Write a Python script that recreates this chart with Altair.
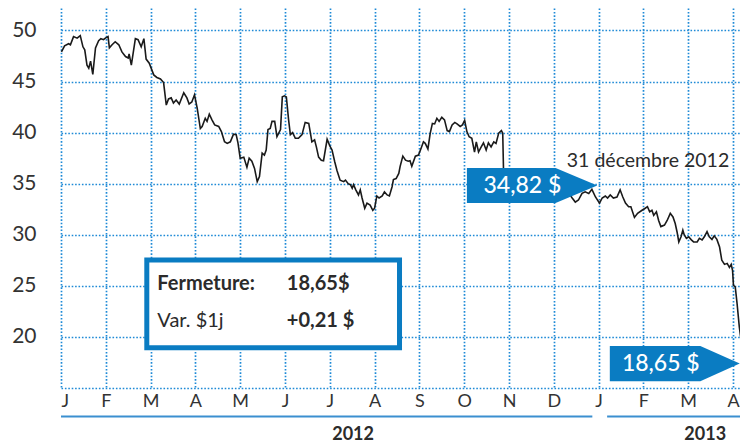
import json
import altair as alt
import pandas as pd

# ---- data (x in months since Jan 2012, equal month spacing) ----
POS = [0.01, 0.08, 0.17, 0.21, 0.28, 0.36, 0.43, 0.49, 0.53, 0.58, 0.62, 0.66, 0.71, 0.77, 0.84, 0.89, 0.95, 0.99,
       1.05, 1.08, 1.14, 1.21, 1.29, 1.36, 1.44, 1.50, 1.52, 1.57, 1.66, 1.72, 1.79, 1.85, 1.90, 1.97,
       2.07, 2.14, 2.22, 2.29, 2.35, 2.40, 2.46, 2.51, 2.57, 2.64, 2.74, 2.81, 2.86, 2.92, 2.98,
       3.04, 3.11, 3.15, 3.22, 3.26, 3.31, 3.37, 3.43, 3.52, 3.58, 3.65, 3.71, 3.78, 3.85, 3.91, 3.95,
       4.00, 4.08, 4.15, 4.20, 4.26, 4.32, 4.38, 4.43, 4.49, 4.54, 4.58, 4.62, 4.67, 4.71, 4.77, 4.82, 4.90, 4.94, 4.99,
       5.03, 5.08, 5.12, 5.17, 5.23, 5.30, 5.38, 5.45, 5.53, 5.60, 5.66, 5.70, 5.75, 5.81, 5.86, 5.94,
       6.00, 6.05, 6.11, 6.16, 6.23, 6.31, 6.35, 6.41, 6.46, 6.50, 6.53, 6.58, 6.64, 6.68, 6.72, 6.78, 6.83, 6.90, 6.96,
       7.00, 7.05, 7.10, 7.17, 7.22, 7.28, 7.33, 7.39, 7.42, 7.48, 7.54, 7.57, 7.63, 7.69, 7.75, 7.79, 7.83, 7.91, 7.98,
       8.04, 8.09, 8.13, 8.19, 8.24, 8.29, 8.34, 8.39, 8.44, 8.50, 8.56, 8.62, 8.67, 8.73, 8.79, 8.84, 8.91, 8.96,
       9.01, 9.06, 9.11, 9.17, 9.23, 9.27, 9.32, 9.38, 9.43, 9.49, 9.54, 9.60, 9.66, 9.71, 9.77, 9.83, 9.86, 9.88, 9.95,
       10.15, 10.40, 10.65, 10.90, 11.15, 11.30, 11.41, 11.48, 11.55, 11.63, 11.70, 11.78, 11.85, 11.93,
       12.02, 12.08, 12.15, 12.20, 12.26, 12.33, 12.41, 12.48, 12.54, 12.60, 12.67, 12.72, 12.80, 12.87, 12.97,
       13.04, 13.09, 13.14, 13.19, 13.23, 13.29, 13.34, 13.39, 13.47, 13.53, 13.60, 13.66, 13.71, 13.75, 13.79, 13.84, 13.88, 13.91, 13.96,
       14.01, 14.07, 14.12, 14.20, 14.25, 14.31, 14.36, 14.42, 14.47, 14.53, 14.58, 14.64, 14.70, 14.75, 14.81, 14.87, 14.92, 14.96, 14.99,
       15.01, 15.05, 15.09, 15.14, 15.19, 15.25, 15.30, 15.34]
PRICE = [47.9, 48.5, 48.7, 48.6, 49.4, 49.25, 49.5, 48.4, 48.1, 46.6, 46.3, 47.0, 45.7, 48.3, 49.0, 49.2, 49.1, 49.25,
         49.4, 48.3, 48.6, 48.9, 48.6, 47.9, 47.45, 47.3, 47.7, 46.6, 49.2, 49.1, 48.4, 49.2, 47.2, 46.8,
         45.65, 45.4, 45.25, 44.9, 42.7, 43.3, 43.4, 42.9, 43.2, 42.8, 43.9, 43.4, 42.8, 43.0, 43.7,
         42.4, 40.4, 40.6, 41.4, 41.1, 41.8, 41.25, 40.75, 40.6, 40.1, 39.1, 38.95, 39.1, 39.85, 39.8, 39.0,
         37.5, 37.6, 36.6, 37.5, 37.2, 36.5, 35.2, 35.7, 38.0, 37.8, 38.3, 40.3, 40.4, 41.1, 41.1, 39.6, 40.3, 43.5, 43.6,
         43.5, 41.25, 39.8, 40.0, 39.45, 39.45, 39.8, 41.0, 40.9, 39.1, 39.3, 38.6, 37.6, 37.3, 37.25, 39.35,
         38.7, 38.3, 37.15, 36.3, 35.35, 35.2, 35.35, 35.0, 34.9, 34.55, 34.9, 34.4, 33.9, 34.4, 33.6, 32.6, 33.1, 32.9, 32.4,
         32.6, 33.8, 33.6, 33.8, 34.2, 33.9, 33.8, 34.7, 35.4, 35.5, 36.0, 36.7, 37.7, 37.3, 37.2, 37.25, 36.7, 37.7, 37.8,
         38.5, 39.1, 38.95, 38.4, 39.9, 40.9, 40.85, 41.4, 41.1, 41.5, 41.25, 40.2, 40.1, 40.75, 41.0, 40.85, 40.6, 40.75,
         41.2, 40.1, 39.6, 39.45, 38.1, 39.1, 38.1, 38.6, 39.0, 38.3, 39.0, 38.6, 39.1, 38.95, 39.95, 40.2, 39.95, 35.8, 35.3,
         35.0, 35.4, 34.9, 35.1, 34.6, 34.3, 33.6, 33.2, 33.4, 34.05, 34.2, 34.05, 34.45, 33.7,
         33.1, 33.6, 33.8, 33.6, 33.9, 33.6, 33.7, 34.4, 33.7, 33.1, 32.75, 32.75, 31.7, 32.1, 32.4,
         32.6, 32.75, 32.25, 32.4, 31.9, 32.25, 31.4, 30.8, 30.95, 31.4, 32.1, 31.75, 31.1, 30.3, 29.3, 29.8, 30.45, 30.0, 29.65,
         29.8, 29.5, 29.3, 29.3, 29.65, 29.5, 29.8, 30.3, 29.8, 29.55, 29.9, 29.55, 28.8, 27.5, 27.1, 27.2, 26.8, 27.1, 26.5,
         25.05, 24.9, 23.3, 21.0, 19.35, 18.4, 18.55, 18.65]

MONTH_LETTERS = ["J", "F", "M", "A", "M", "J", "J", "A", "S", "O", "N", "D", "J", "F", "M", "A"]
Y_TICKS = [15, 20, 25, 30, 35, 40, 45, 50]

YEARS = ["2012", "2013"]
YEAR_START = [0.0, 12.19]
YEAR_END = [11.86, 15.34]
YEAR_LABEL_POS = [6.52, 14.38]

# callouts
CALLOUT_TEXT = ["34,82 $", "18,65 $"]
CALLOUT_TIP_X = [11.97, 15.15]
CALLOUT_TIP_Y = [34.82, 17.39]
CALLOUT_LEFT = [9.06, 12.25]
CALLOUT_BODY_RIGHT = [11.04, 14.27]
CALLOUT_HALF = 1.72
CALLOUT_TEXT_X = [9.43, 12.52]

DATE_NOTE = "31 décembre 2012"
BOX_LABELS = ["Fermeture:", "Var. $1j"]
BOX_VALUES = ["18,65$", "+0,21 $"]

BLUE = "#0a7cc2"
GRID = "#1f8ad6"
TXT = "#2b2b2b"
FONT = "Lato"

xs = alt.Scale(domain=[0, 15.156], nice=False, zero=False)
ys = alt.Scale(domain=[15, 52.2], nice=False, zero=False)
xaxis = alt.Axis(values=list(range(16)), labelExpr=json.dumps(MONTH_LETTERS) + "[datum.value]",
                 labelFontSize=18, labelPadding=4, title=None, grid=True)
yaxis = alt.Axis(values=Y_TICKS, labelExpr="datum.value == 15 ? '' : '' + datum.value",
                 labelFontSize=21, labelPadding=25, title=None, grid=True)


def X(field="m"):
    return alt.X(f"{field}:Q", scale=xs, axis=xaxis)


def Y(field="v"):
    return alt.Y(f"{field}:Q", scale=ys, axis=yaxis, stack=None)


line_df = pd.DataFrame({"m": POS, "v": PRICE})
line = alt.Chart(line_df).mark_line(color="#1a1a1a", strokeWidth=1.6).encode(x=X(), y=Y())

# year rules and labels
yr_df = pd.DataFrame({"m": YEAR_START, "m2": YEAR_END, "v": [12.22, 12.22], "lab": YEARS,
                      "lm": YEAR_LABEL_POS, "lv": [10.43, 10.43]})
yr_rule = alt.Chart(yr_df).mark_rule(color="#3b8fd0", strokeWidth=2).encode(
    x=X(), x2="m2:Q", y=Y())
yr_text = alt.Chart(yr_df).mark_text(font=FONT, fontSize=18, fontWeight="bold", color=TXT,
                                     baseline="middle", align="center").encode(
    x=X("lm"), y=Y("lv"), text="lab:N")

# arrow callouts (pentagon areas), one layer each
arrow_layers = []
for i, t in enumerate(CALLOUT_TEXT):
    c = CALLOUT_TIP_Y[i]
    adf = pd.DataFrame({
        "m": [CALLOUT_LEFT[i], CALLOUT_BODY_RIGHT[i], CALLOUT_TIP_X[i]],
        "v": [c + CALLOUT_HALF, c + CALLOUT_HALF, c],
        "v2": [c - CALLOUT_HALF, c - CALLOUT_HALF, c],
    })
    arrow_layers.append(
        alt.Chart(adf).mark_area(color=BLUE, opacity=1, interpolate="linear").encode(
            x=X(), y=Y(), y2="v2:Q")
    )
ctext_df = pd.DataFrame({"m": CALLOUT_TEXT_X, "v": CALLOUT_TIP_Y, "t": CALLOUT_TEXT})
ctext = alt.Chart(ctext_df).mark_text(font=FONT, fontSize=23, color="white", align="left",
                                      baseline="middle", fontWeight=500).encode(
    x=X(), y=Y(), text="t:N")

note = alt.Chart(pd.DataFrame({"m": [11.29], "v": [36.67], "t": [DATE_NOTE]})).mark_text(
    font=FONT, fontSize=19.5, color=TXT, align="left", baseline="alphabetic").encode(
    x=X(), y=Y(), text="t:N")

# info box
box = alt.Chart(pd.DataFrame({"m": [1.915], "m2": [7.556], "v": [27.54], "v2": [18.94]})).mark_rect(
    fill="white", stroke=BLUE, strokeWidth=5).encode(x=X(), x2="m2:Q", y=Y(), y2="v2:Q")
box_df = pd.DataFrame({"m": [2.15, 2.15], "m2": [5.04, 5.04], "v": [24.63, 20.98],
                       "lab": BOX_LABELS, "val": BOX_VALUES})
box_lab1 = alt.Chart(box_df.iloc[[0]]).mark_text(font=FONT, fontSize=20, fontWeight="bold", color=TXT,
                                                 align="left", baseline="alphabetic").encode(
    x=X(), y=Y(), text="lab:N")
box_lab2 = alt.Chart(box_df.iloc[[1]]).mark_text(font=FONT, fontSize=20, color=TXT,
                                                 align="left", baseline="alphabetic").encode(
    x=X(), y=Y(), text="lab:N")
box_val = alt.Chart(box_df).mark_text(font=FONT, fontSize=20, fontWeight="bold", color=TXT,
                                      align="left", baseline="alphabetic").encode(
    x=X("m2"), y=Y(), text="val:N")

chart = alt.layer(line, yr_rule, yr_text, box, box_lab1, box_lab2, box_val, *arrow_layers, ctext, note).properties(
    width=679, height=380,
    autosize=alt.AutoSizeParams(type="none"),
    padding={"left": 53, "top": 0, "right": 0, "bottom": 56},
).configure_view(stroke=None).configure_axis(
    domain=False, ticks=False, gridColor=GRID, gridDash=[1.6, 1.8], gridWidth=1.7, gridOpacity=1,
    labelFont=FONT, labelColor="#333333"
)

chart.save("out.html", embed_options={"renderer": "svg", "actions": False})
